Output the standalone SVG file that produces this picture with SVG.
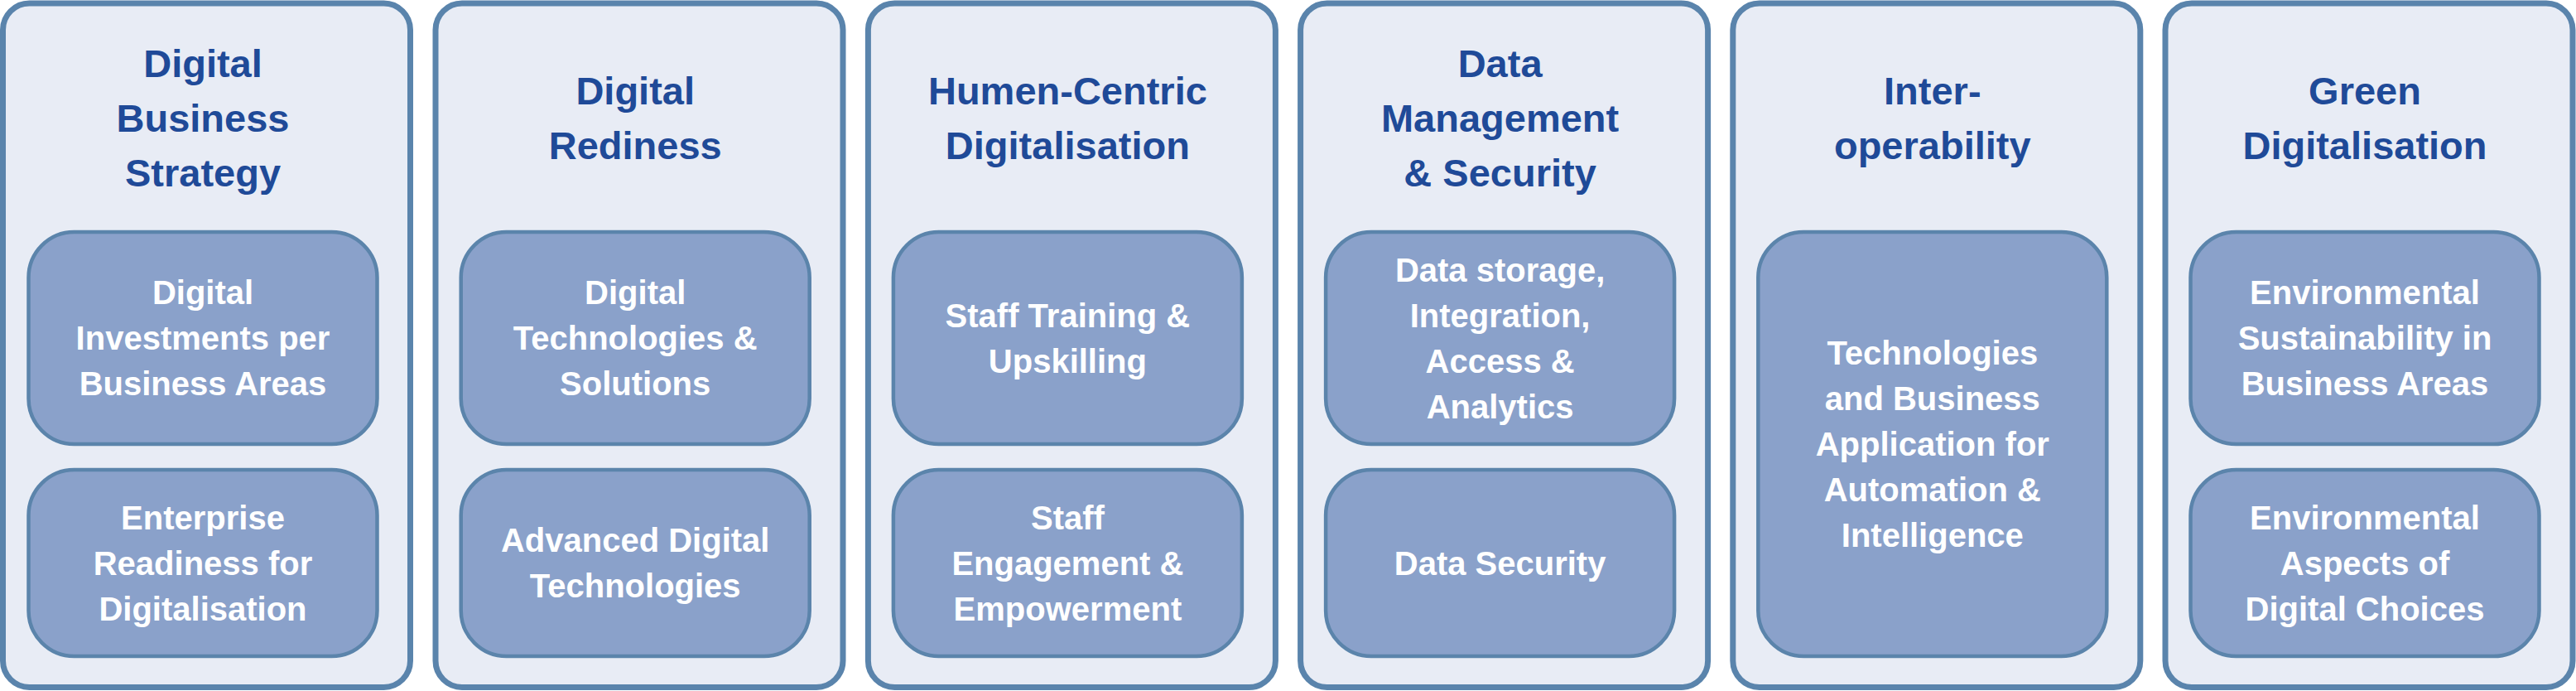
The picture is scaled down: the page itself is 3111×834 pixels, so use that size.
<svg xmlns="http://www.w3.org/2000/svg" width="3111" height="834" viewBox="0 0 3111 834">
<style>
.outer{fill:#E8ECF5;stroke:#5A84AC;stroke-width:7}
.inner{fill:#8AA1CA;stroke:#5B84AB;stroke-width:4.5}
.title{font-family:"Liberation Sans",Arial,sans-serif;font-weight:bold;font-size:47px;fill:#1F4A98;text-anchor:middle}
.label{font-family:"Liberation Sans",Arial,sans-serif;font-weight:bold;font-size:40px;fill:#FFFFFF;text-anchor:middle}
</style>
<rect width="3111" height="834" fill="#FFFFFF"/>
<g id="connectors"></g>

<g id="col1">
<rect class="outer" x="3.5" y="4" width="492" height="825.5" rx="32"/>
<text class="title"><tspan x="245" y="93">Digital</tspan><tspan x="245" y="159">Business</tspan><tspan x="245" y="225">Strategy</tspan></text>
<g id="col1-a">
<rect class="inner" x="34.5" y="280" width="421" height="256" rx="55"/>
<text class="label"><tspan x="245" y="367">Digital</tspan><tspan x="245" y="422">Investments per</tspan><tspan x="245" y="477">Business Areas</tspan></text>
</g>
<g id="col1-b">
<rect class="inner" x="34.5" y="567" width="421" height="225" rx="55"/>
<text class="label"><tspan x="245" y="638.5">Enterprise</tspan><tspan x="245" y="693.5">Readiness for</tspan><tspan x="245" y="748.5">Digitalisation</tspan></text>
</g>
</g>

<g id="col2">
<rect class="outer" x="526" y="4" width="492" height="825.5" rx="32"/>
<text class="title"><tspan x="767.2" y="126">Digital</tspan><tspan x="767.2" y="192">Rediness</tspan></text>
<g id="col2-a">
<rect class="inner" x="556.7" y="280" width="421" height="256" rx="55"/>
<text class="label"><tspan x="767.2" y="367">Digital</tspan><tspan x="767.2" y="422">Technologies &amp;</tspan><tspan x="767.2" y="477">Solutions</tspan></text>
</g>
<g id="col2-b">
<rect class="inner" x="556.7" y="567" width="421" height="225" rx="55"/>
<text class="label"><tspan x="767.2" y="666">Advanced Digital</tspan><tspan x="767.2" y="721">Technologies</tspan></text>
</g>
</g>

<g id="col3">
<rect class="outer" x="1048.4" y="4" width="492" height="825.5" rx="32"/>
<text class="title"><tspan x="1289.4" y="126">Humen-Centric</tspan><tspan x="1289.4" y="192">Digitalisation</tspan></text>
<g id="col3-a">
<rect class="inner" x="1078.9" y="280" width="421" height="256" rx="55"/>
<text class="label"><tspan x="1289.4" y="394.5">Staff Training &amp;</tspan><tspan x="1289.4" y="449.5">Upskilling</tspan></text>
</g>
<g id="col3-b">
<rect class="inner" x="1078.9" y="567" width="421" height="225" rx="55"/>
<text class="label"><tspan x="1289.4" y="638.5">Staff</tspan><tspan x="1289.4" y="693.5">Engagement &amp;</tspan><tspan x="1289.4" y="748.5">Empowerment</tspan></text>
</g>
</g>

<g id="col4">
<rect class="outer" x="1570.6" y="4" width="492" height="825.5" rx="32"/>
<text class="title"><tspan x="1811.6" y="93">Data</tspan><tspan x="1811.6" y="159">Management</tspan><tspan x="1811.6" y="225">&amp; Security</tspan></text>
<g id="col4-a">
<rect class="inner" x="1601.1" y="280" width="421" height="256" rx="55"/>
<text class="label"><tspan x="1811.6" y="339.5">Data storage,</tspan><tspan x="1811.6" y="394.5">Integration,</tspan><tspan x="1811.6" y="449.5">Access &amp;</tspan><tspan x="1811.6" y="504.5">Analytics</tspan></text>
</g>
<g id="col4-b">
<rect class="inner" x="1601.1" y="567" width="421" height="225" rx="55"/>
<text class="label"><tspan x="1811.6" y="693.5">Data Security</tspan></text>
</g>
</g>

<g id="col5">
<rect class="outer" x="2092.8" y="4" width="492" height="825.5" rx="32"/>
<text class="title"><tspan x="2333.8" y="126">Inter-</tspan><tspan x="2333.8" y="192">operability</tspan></text>
<g id="col5-a">
<rect class="inner" x="2123.3" y="280" width="421" height="512" rx="55"/>
<text class="label"><tspan x="2333.8" y="440">Technologies</tspan><tspan x="2333.8" y="495">and Business</tspan><tspan x="2333.8" y="550">Application for</tspan><tspan x="2333.8" y="605">Automation &amp;</tspan><tspan x="2333.8" y="660">Intelligence</tspan></text>
</g>
</g>

<g id="col6">
<rect class="outer" x="2615" y="4" width="492" height="825.5" rx="32"/>
<text class="title"><tspan x="2856" y="126">Green</tspan><tspan x="2856" y="192">Digitalisation</tspan></text>
<g id="col6-a">
<rect class="inner" x="2645.5" y="280" width="421" height="256" rx="55"/>
<text class="label"><tspan x="2856" y="367">Environmental</tspan><tspan x="2856" y="422">Sustainability in</tspan><tspan x="2856" y="477">Business Areas</tspan></text>
</g>
<g id="col6-b">
<rect class="inner" x="2645.5" y="567" width="421" height="225" rx="55"/>
<text class="label"><tspan x="2856" y="638.5">Environmental</tspan><tspan x="2856" y="693.5">Aspects of</tspan><tspan x="2856" y="748.5">Digital Choices</tspan></text>
</g>
</g>
</svg>
